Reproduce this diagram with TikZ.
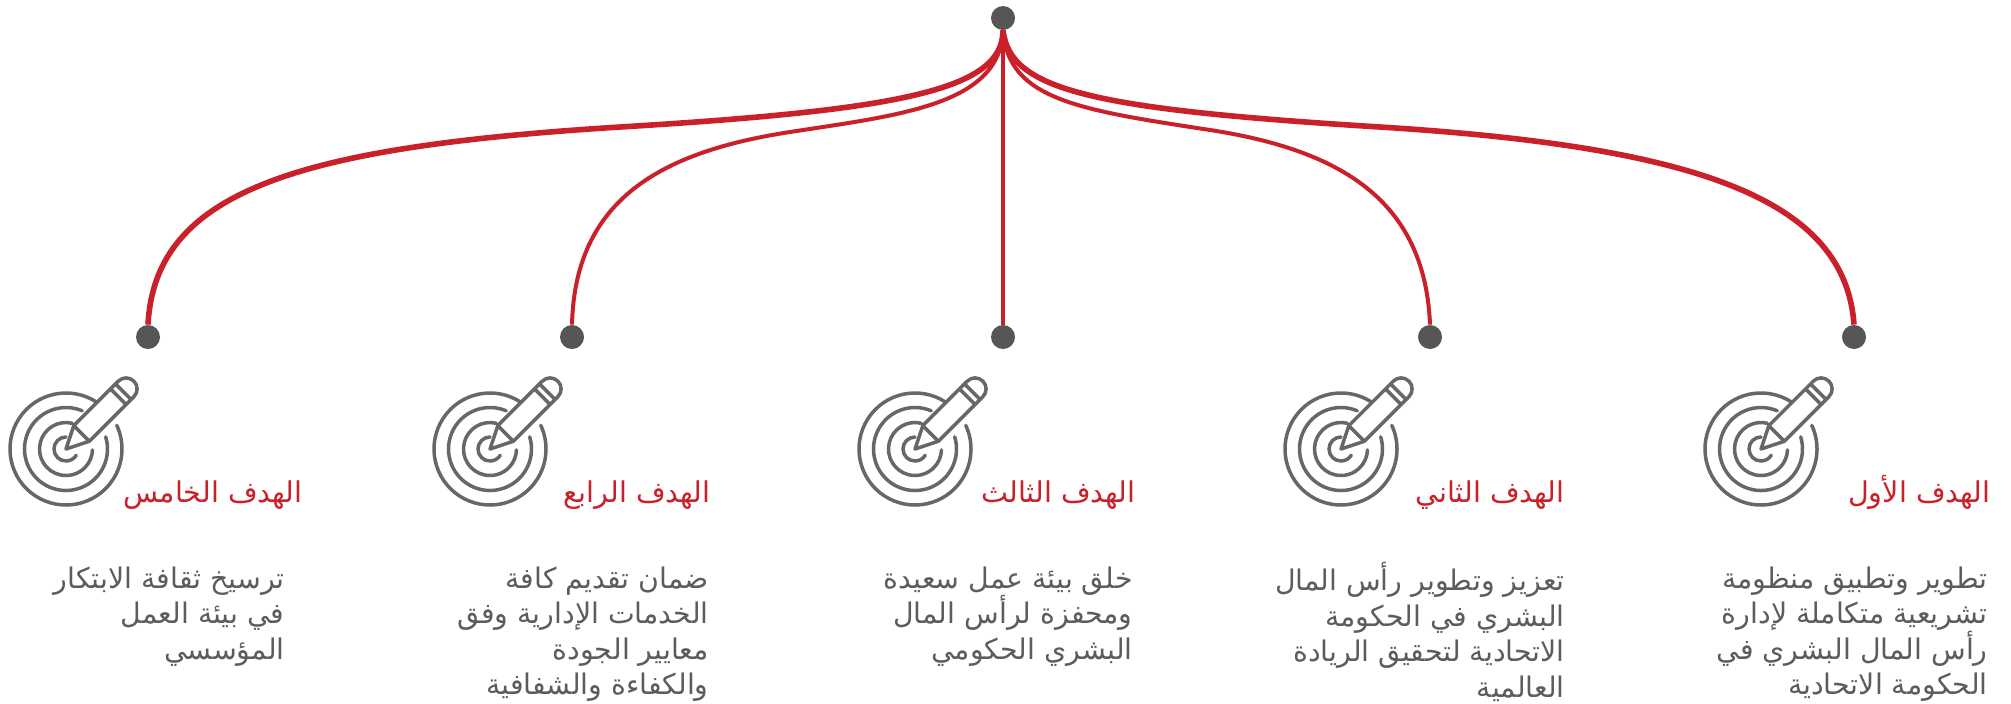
\documentclass[tikz,border=0pt]{standalone}
\usepackage{fontspec}
\usepackage{tikz}
\usetikzlibrary{positioning}
\newfontfamily\arabicfont[Script=Arabic]{DejaVu Sans}
\TeXXeTstate=1
\newcommand{\rtl}[1]{\beginR\rule{0pt}{13pt}#1\endR}
\definecolor{goalred}{HTML}{C9202A}
\definecolor{dotgray}{HTML}{565656}
\definecolor{icongray}{HTML}{676767}
\definecolor{textgray}{HTML}{5C5C5C}

\begin{document}
\begin{tikzpicture}[
    x=0.5pt, y=0.5pt,
    dot/.style={circle, fill=dotgray, inner sep=0pt, minimum size=12pt},
    thinline/.style={draw=goalred, line width=2pt},
    thickline/.style={draw=goalred, line width=2.8pt},
    goaltitle/.style={anchor=base east, inner sep=0pt, text=goalred, font=\arabicfont\fontsize{14.3}{16}\selectfont},
    goaltext/.style={anchor=north east, inner sep=0pt, align=right, text=textgray, font=\arabicfont\fontsize{14.2}{17.75}\selectfont},
    pics/targeticon/.style={code={
        \draw[icongray, line width=1.75pt, line cap=round]
            (57:56) arc[start angle=57, end angle=385, radius=56]
            (67:41.5) arc[start angle=67, end angle=377, radius=41.5]
            (76:26.5) arc[start angle=76, end angle=358, radius=26.5]
            (90:12) arc[start angle=90, end angle=329, radius=12];
        \begin{scope}[rotate=45]
            \draw[icongray, line width=1.75pt, line join=round]
                (0,0) -- (22,11) -- (85,11) arc[start angle=90, end angle=-90, radius=11] -- (22,-11) -- cycle
                (22,11) -- (22,-11)
                (74,11) -- (74,-11)
                (81,11) -- (81,-11);
        \end{scope}
    }}
]
\useasboundingbox (0,0) rectangle (2011,-703);

% Top dot and the dots of the goals
\node[dot] (top) at (1003,-18) {};
\node[dot] (dot1) at (1854,-337) {};
\node[dot] (dot2) at (1430,-337) {};
\node[dot] (dot3) at (1003,-337) {};
\node[dot] (dot4) at (572,-337) {};
\node[dot] (dot5) at (148,-337) {};

% Curves
\draw[thickline] (top.south) .. controls (1003,-90) and (900,-110) .. (620,-127) .. controls (300,-147) and (155,-190) .. (dot5.north);
\draw[thinline] (top.south) .. controls (1000,-105) and (900,-115) .. (790,-132) .. controls (660,-152) and (575,-200) .. (dot4.north);
\draw[thinline] (top.south) -- (dot3.north);
\draw[thinline] (top.south) .. controls (1008,-100) and (1080,-110) .. (1210,-130) .. controls (1340,-150) and (1425,-200) .. (dot2.north);
\draw[thickline] (top.south) .. controls (1010,-90) and (1090,-109) .. (1380,-127) .. controls (1700,-147) and (1845,-200) .. (dot1.north);

% Icons
\pic at (1761,-449) {targeticon};
\pic at (1341,-449) {targeticon};
\pic at (915,-449) {targeticon};
\pic at (490,-449) {targeticon};
\pic at (66,-449) {targeticon};

% Goal 1
\node[goaltitle] (title1) at (1991,-502) {\rtl{الهدف الأول}};
\node[goaltext] (text1) at (1988,-562) {\rtl{تطوير وتطبيق منظومة}\\\rtl{تشريعية متكاملة  لإدارة}\\\rtl{رأس المال البشري في}\\\rtl{الحكومة الاتحادية}};

% Goal 2
\node[goaltitle] (title2) at (1565,-502) {\rtl{الهدف الثاني}};
\node[goaltext] (text2) at (1565,-562) {\rtl{تعزيز وتطوير رأس المال}\\\rtl{البشري في الحكومة}\\\rtl{الاتحادية لتحقيق الريادة}\\\rtl{العالمية}};

% Goal 3
\node[goaltitle] (title3) at (1136,-502) {\rtl{الهدف الثالث}};
\node[goaltext] (text3) at (1133,-562) {\rtl{خلق بيئة عمل سعيدة}\\\rtl{ومحفزة لرأس المال}\\\rtl{البشري الحكومي}};

% Goal 4
\node[goaltitle] (title4) at (711,-502) {\rtl{الهدف الرابع}};
\node[goaltext] (text4) at (709,-562) {\rtl{ضمان تقديم كافة}\\\rtl{الخدمات الإدارية وفق}\\\rtl{معايير الجودة}\\\rtl{والكفاءة والشفافية}};

% Goal 5
\node[goaltitle] (title5) at (303,-502) {\rtl{الهدف الخامس}};
\node[goaltext] (text5) at (285,-562) {\rtl{ترسيخ ثقافة الابتكار}\\\rtl{في بيئة العمل}\\\rtl{المؤسسي}};

\end{tikzpicture}
\end{document}
